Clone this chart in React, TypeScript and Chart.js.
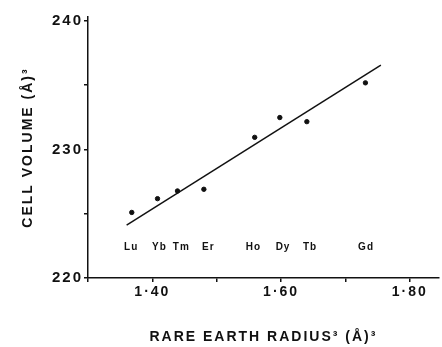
import { useEffect, useRef } from 'react';
import { Chart, registerables } from 'chart.js';

Chart.register(...registerables);

// Element labels and measured values
const elements = ['Lu', 'Yb', 'Tm', 'Er', 'Ho', 'Dy', 'Tb', 'Gd'];
const radiusCubed = [1.368, 1.408, 1.439, 1.48, 1.559, 1.598, 1.64, 1.731];
const cellVolume = [225.1, 226.17, 226.77, 226.9, 230.94, 232.48, 232.16, 235.18];
// Where the element names sit (x in radius units, shared y level in volume units)
const labelRadius = [1.367, 1.411, 1.445, 1.487, 1.557, 1.603, 1.645, 1.732];
const labelVolume = 222.38;
// Fitted straight line end points
const fitRadius = [1.36, 1.755];
const fitVolume = [224.12, 236.56];
// Tick labels
const xTickValues = [1.4, 1.6, 1.8];
const xTickLabels = ['1·40', '1·60', '1·80'];
const yTickValues = [220, 230, 240];
const yTickLabels = ['220', '230', '240'];

const FONT = "'Liberation Sans', Arial, sans-serif";
const INK = '#111';

const spacingPlugin = {
  id: 'letterSpacing',
  beforeUpdate(chart: any) {
    chart.ctx.letterSpacing = '2px';
  },
  beforeDraw(chart: any) {
    chart.ctx.letterSpacing = '2px';
  },
};

const elementLabelPlugin = {
  id: 'elementLabels',
  afterDatasetsDraw(chart: any) {
    const { ctx, scales } = chart;
    ctx.save();
    ctx.letterSpacing = '1px';
    ctx.font = `bold 10px ${FONT}`;
    ctx.fillStyle = INK;
    ctx.textAlign = 'center';
    ctx.textBaseline = 'middle';
    const y = scales.y.getPixelForValue(labelVolume);
    elements.forEach((name, i) => {
      const x = scales.x.getPixelForValue(labelRadius[i]);
      ctx.fillText(name, x, y);
    });
    ctx.restore();
  },
};

export default function App() {
  const ref = useRef<HTMLCanvasElement>(null);

  useEffect(() => {
    const chart = new Chart(ref.current as HTMLCanvasElement, {
      type: 'scatter',
      data: {
        datasets: [
          {
            type: 'scatter',
            data: radiusCubed.map((x, i) => ({ x, y: cellVolume[i] })),
            backgroundColor: INK,
            borderColor: INK,
            pointRadius: 2.2,
            pointHoverRadius: 2.2,
          },
          {
            type: 'line',
            data: fitRadius.map((x, i) => ({ x, y: fitVolume[i] })),
            borderColor: INK,
            borderWidth: 1.5,
            pointRadius: 0,
            fill: false,
          } as any,
        ],
      },
      options: {
        responsive: false,
        animation: false,
        events: [],
        layout: { padding: { top: 17, right: 2, left: 0, bottom: 0 } },
        plugins: {
          legend: { display: false },
          tooltip: { enabled: false },
        },
        scales: {
          x: {
            type: 'linear',
            min: 1.3,
            max: 1.845,
            afterFit: (s: any) => {
              s.height = 69;
            },
            ticks: {
              stepSize: 0.1,
              includeBounds: false,
              autoSkip: false,
              maxRotation: 0,
              padding: 2,
              color: INK,
              font: { family: FONT, size: 14, weight: 'bold' },
              callback: (v: any) => {
                const idx = xTickValues.findIndex((t) => Math.abs(t - Number(v)) < 1e-6);
                return idx >= 0 ? xTickLabels[idx] : '';
              },
            },
            grid: {
              display: true,
              drawOnChartArea: false,
              drawTicks: true,
              tickLength: 4,
              color: INK,
              lineWidth: 1.5,
            },
            border: { display: true, color: INK, width: 1.5 },
            title: {
              display: true,
              text: 'RARE EARTH RADIUS³ (Å)³',
              color: INK,
              font: { family: FONT, size: 14, weight: 'bold' },
              padding: { top: 0, bottom: 1 },
            },
          },
          y: {
            type: 'linear',
            min: 220,
            max: 240.3,
            afterFit: (s: any) => {
              s.width = 88;
            },
            ticks: {
              stepSize: 5,
              includeBounds: false,
              autoSkip: false,
              padding: 1,
              color: INK,
              font: { family: FONT, size: 15, weight: 'bold' },
              callback: (v: any) => {
                const idx = yTickValues.findIndex((t) => Math.abs(t - Number(v)) < 1e-6);
                return idx >= 0 ? yTickLabels[idx] : '';
              },
            },
            grid: {
              display: true,
              drawOnChartArea: false,
              drawTicks: true,
              tickLength: 4,
              color: INK,
              lineWidth: 1.5,
            },
            border: { display: true, color: INK, width: 1.5 },
            title: {
              display: true,
              text: 'CELL VOLUME (Å)³',
              color: INK,
              font: { family: FONT, size: 14, weight: 'bold' },
              padding: { top: 20, bottom: 0 },
            },
          },
        },
      },
      plugins: [spacingPlugin, elementLabelPlugin],
    } as any);
    return () => chart.destroy();
  }, []);

  return (
    <div
      style={{
        position: 'fixed',
        left: 0,
        top: 0,
        width: 442,
        height: 347,
        background: '#fff',
      }}
    >
      <canvas ref={ref} width={442} height={347} style={{ display: 'block' }} />
    </div>
  );
}
